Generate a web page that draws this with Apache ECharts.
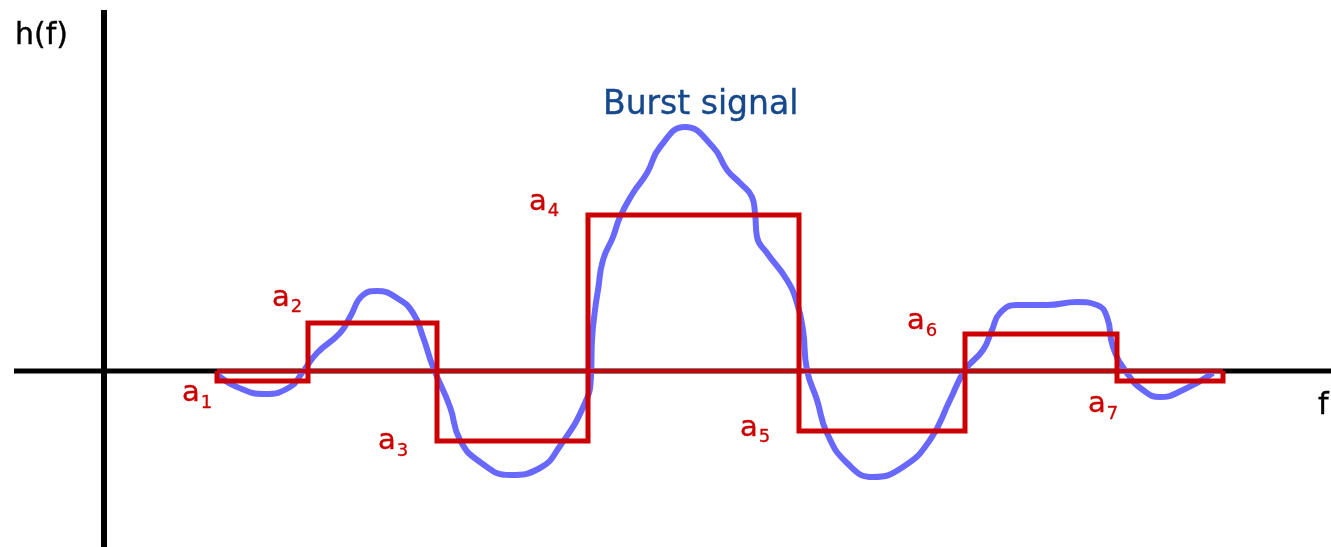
<!DOCTYPE html>
<html>
<head>
<meta charset="utf-8">
<script src="https://cdn.jsdelivr.net/npm/echarts@6/dist/echarts.min.js"></script>
<style>
  html, body { margin: 0; padding: 0; background: #fff; }
  #chart { width: 1331px; height: 547px; }
</style>
</head>
<body>
<div id="chart"></div>
<script>
// step edges along f and the level a1..a7 of each step
var stepEdges = [1.13, 2.04, 3.33, 4.84, 6.95, 8.61, 10.13, 11.19];
var stepLevels = [-0.10, 0.48, -0.70, 1.56, -0.60, 0.37, -0.10];
var stepNames = ['1', '2', '3', '4', '5', '6', '7'];

// burst signal
var burstF = [1.14, 1.33, 1.61, 1.86, 1.98, 2.13, 2.36, 2.46, 2.59, 2.73, 2.93, 3.09, 3.19, 3.29,
  3.46, 3.56, 3.76, 4.06, 4.36, 4.56, 4.81, 4.87, 4.88, 4.91, 4.94, 4.99, 5.09, 5.16, 5.29,
  5.43, 5.56, 5.81, 6.09, 6.23, 6.36, 6.48, 6.51, 6.53, 6.63, 6.83, 6.93, 6.99, 7.03, 7.13, 7.23,
  7.43, 7.69, 7.99, 8.26, 8.46, 8.61, 8.79, 8.88, 8.96, 9.13, 9.43, 9.73, 9.93, 10.03, 10.09,
  10.23, 10.39, 10.56, 10.79, 11.09];
var burstH = [-0.04, -0.16, -0.23, -0.16, -0.02, 0.18, 0.38, 0.54, 0.76, 0.80, 0.73, 0.58, 0.34, 0.04,
  -0.36, -0.69, -0.91, -1.04, -0.97, -0.75, -0.32, -0.05, 0.31, 0.61, 0.81, 1.11, 1.34, 1.54, 1.78,
  1.98, 2.24, 2.44, 2.24, 2.01, 1.88, 1.74, 1.58, 1.34, 1.18, 0.91, 0.68, 0.41, 0.01, -0.29, -0.62,
  -0.92, -1.06, -0.96, -0.69, -0.29, 0.01, 0.21, 0.41, 0.58, 0.66, 0.66, 0.69, 0.66, 0.54, 0.24,
  -0.02, -0.19, -0.26, -0.19, -0.02];

// where the a_i labels sit
var labelF = [0.78, 1.68, 2.74, 4.25, 6.36, 8.03, 9.84];
var labelH = [-0.245, 0.71, -0.725, 1.67, -0.59, 0.475, -0.355];

// axis extents
var fAxisRange = [-0.90, 12.27];
var hAxisRange = [-1.76, 3.61];

var chart = echarts.init(document.getElementById('chart'));

var stepPts = [[stepEdges[0], 0]];
for (var i = 0; i < stepLevels.length; i++) {
  stepPts.push([stepEdges[i], stepLevels[i]]);
  stepPts.push([stepEdges[i + 1], stepLevels[i]]);
}
stepPts.push([stepEdges[stepEdges.length - 1], 0]);

var burstPts = burstF.map(function (f, i) { return [f, burstH[i]]; });

var aLabels = labelF.map(function (f, i) {
  return { value: [f, labelH[i]], label: { formatter: '{a|a}{s|' + stepNames[i] + '}' } };
});

var plainLine = function (data, color, width, z) {
  return {
    type: 'line', data: data, symbol: 'none', silent: true, z: z,
    lineStyle: { color: color, width: width, cap: 'butt', join: 'miter' }
  };
};

var red = '#cc0000';
var option = {
  animation: false,
  grid: { left: 0, right: 0, top: 0, bottom: 0 },
  xAxis: { type: 'value', min: -1.04, max: 12.27, show: false },
  yAxis: { type: 'value', min: -1.76, max: 3.71, show: false },
  series: [
    plainLine([[fAxisRange[0], 0], [fAxisRange[1], 0]], '#000', 5, 1),
    plainLine([[0, hAxisRange[0]], [0, hAxisRange[1]]], '#000', 6, 1),
    {
      type: 'line', data: burstPts, symbol: 'none', smooth: 0.5, silent: true, z: 2,
      lineStyle: { color: '#6868ff', width: 6 }
    },
    plainLine([[stepEdges[0], 0], [stepEdges[stepEdges.length - 1], 0]], red, 4, 3),
    plainLine(stepPts, red, 5, 4),
    {
      type: 'scatter', symbolSize: 0, silent: true, z: 5,
      itemStyle: { opacity: 1 },
      data: aLabels,
      label: {
        show: true, position: 'inside', align: 'left', verticalAlign: 'middle',
        rich: {
          a: { fontFamily: 'DejaVu Sans', fontSize: 29, color: red, verticalAlign: 'bottom', padding: [0, 1, 4, 0],
               textBorderColor: red, textBorderWidth: 0.4 },
          s: { fontFamily: 'DejaVu Sans', fontSize: 18, color: red, verticalAlign: 'bottom',
               textBorderColor: red, textBorderWidth: 0.3 }
        }
      }
    },
    {
      type: 'scatter', symbolSize: 0, silent: true, z: 5,
      itemStyle: { opacity: 1 },
      data: [
        { value: [-0.89, 3.35], label: { formatter: 'h(f)', color: '#000', fontSize: 30, textBorderColor: '#000' } },
        { value: [12.14, -0.35], label: { formatter: 'f', color: '#000', fontSize: 30, textBorderColor: '#000' } },
        { value: [4.99, 2.66], label: { formatter: 'Burst signal', color: '#15488c', fontSize: 33, textBorderColor: '#15488c' } }
      ],
      label: {
        show: true, position: 'inside', align: 'left', verticalAlign: 'middle',
        fontFamily: 'DejaVu Sans', textBorderWidth: 0.4
      }
    }
  ]
};

chart.setOption(option);
</script>
</body>
</html>
